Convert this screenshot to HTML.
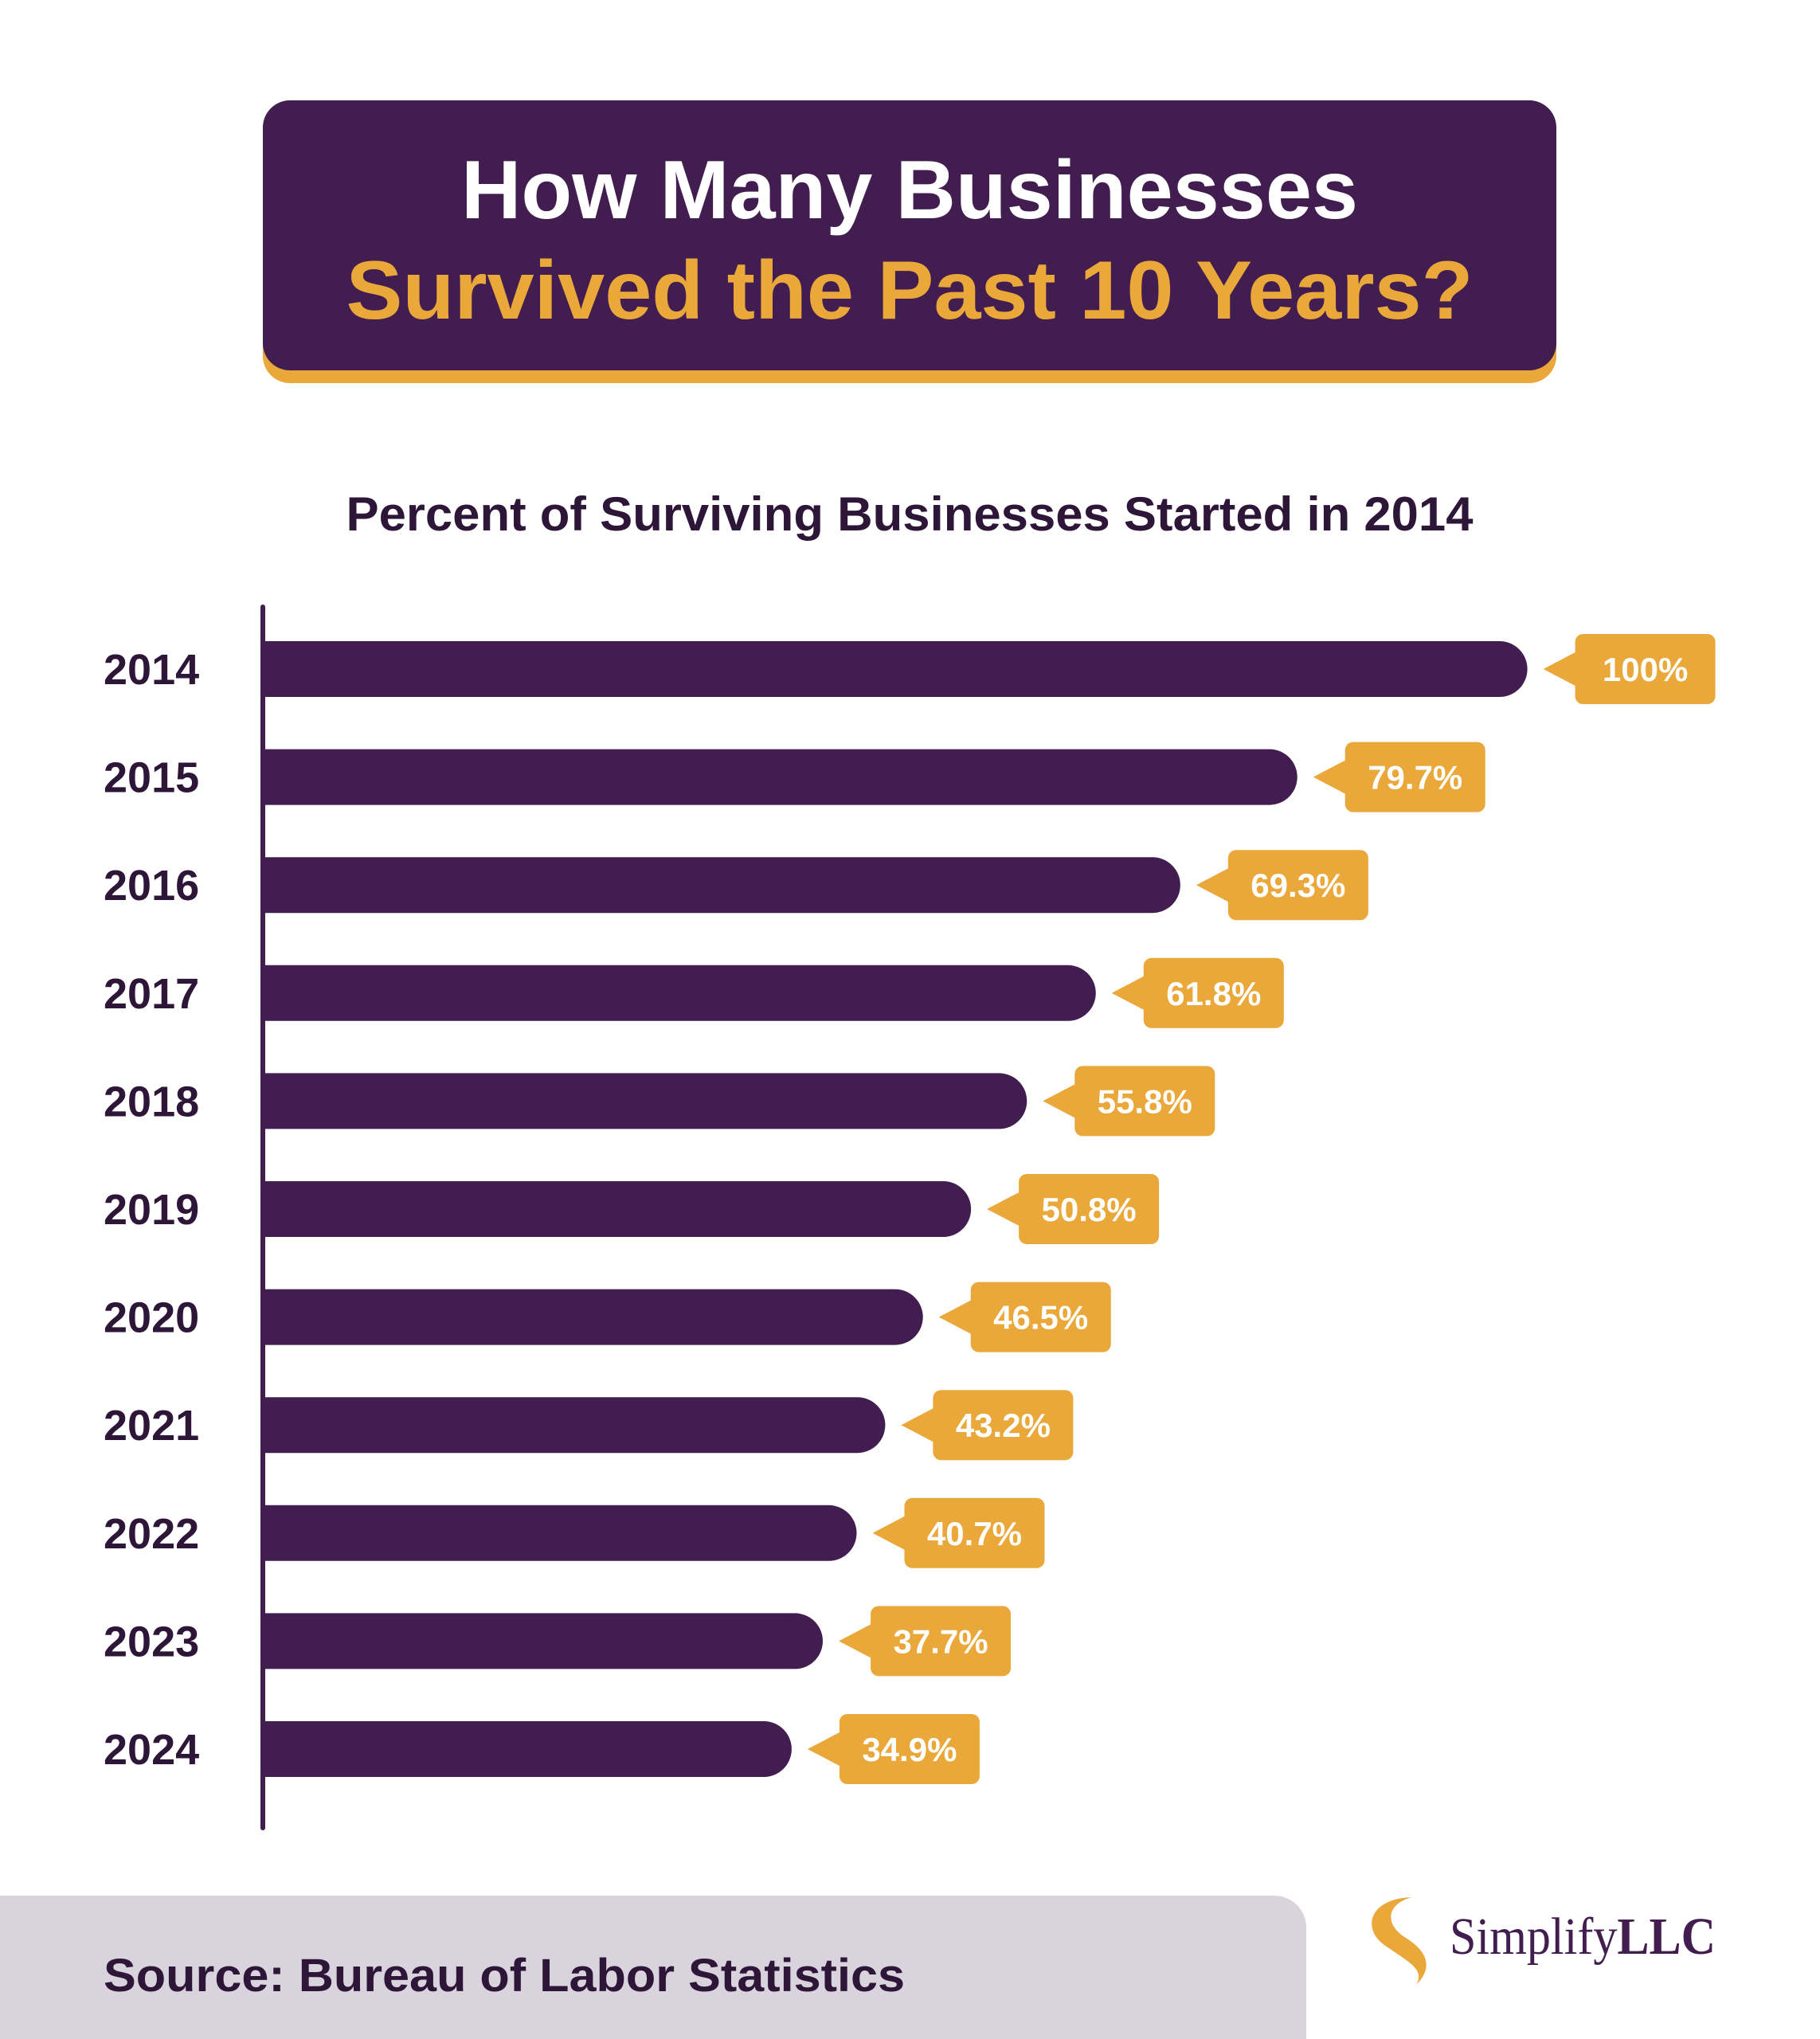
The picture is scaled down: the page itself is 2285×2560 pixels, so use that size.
<!DOCTYPE html>
<html><head><meta charset="utf-8"><style>html,body{margin:0;padding:0;background:#fff}svg{display:block}</style></head>
<body>
<svg width="2285" height="2560" viewBox="0 0 2285 2560" xmlns="http://www.w3.org/2000/svg" font-family="Liberation Sans, sans-serif">
<rect x="330" y="142" width="1624" height="339" rx="34" fill="#eaa83b"/>
<rect x="330" y="126" width="1624" height="339" rx="34" fill="#421d4f"/>
<text x="1142" y="274" text-anchor="middle" font-size="104" font-weight="bold" fill="#fff" textLength="1126" lengthAdjust="spacingAndGlyphs">How Many Businesses</text>
<text x="1142" y="400" text-anchor="middle" font-size="104" font-weight="bold" fill="#eaa83b" textLength="1415" lengthAdjust="spacingAndGlyphs">Survived the Past 10 Years?</text>
<text x="1142" y="666" text-anchor="middle" font-size="60" font-weight="bold" fill="#2e1638" textLength="1415" lengthAdjust="spacingAndGlyphs">Percent of Surviving Businesses Started in 2014</text>
<rect x="327" y="759" width="6" height="1539" rx="3" fill="#421d4f"/>
<g id="bars"></g>
<path d="M0 2380 H1600 A40 40 0 0 1 1640 2420 V2560 H0 Z" fill="#d9d3dd"/>
<text x="130" y="2500" font-size="58" font-weight="bold" fill="#2e1638" textLength="1006" lengthAdjust="spacingAndGlyphs">Source: Bureau of Labor Statistics</text>
<path d="M1772 2382 C1718 2384 1710 2422 1738 2442 C1766 2462 1790 2472 1778 2492 C1800 2470 1792 2450 1765 2433 C1740 2418 1738 2392 1772 2382 Z" fill="#eaa83b"/>
<text x="1820" y="2453" font-family="Liberation Serif, serif" font-size="66" fill="#421d4f" textLength="334" lengthAdjust="spacingAndGlyphs">Simplify<tspan font-weight="bold">LLC</tspan></text>
</svg>
<script>
var ends=[1175,998,908,843,790,747,710,681,659,633,609],vals=["100%","79.7%","69.3%","61.8%","55.8%","50.8%","46.5%","43.2%","40.7%","37.7%","34.9%"];
var g=document.getElementById('bars'),s='';
for(var i=0;i<11;i++){var cy=840+i*135.6,e=ends[i]*1.632,bx=e+60;
s+='<path d="M330 '+(cy-35)+' H'+(e-35)+' A35 35 0 0 1 '+(e-35)+' '+(cy+35)+' H330 Z" fill="#421d4f"/>';
s+='<text x="130" y="'+(cy+19)+'" font-size="54" font-weight="bold" fill="#2e1638">'+(2014+i)+'</text>';
s+='<rect x="'+bx+'" y="'+(cy-44)+'" width="176" height="88" rx="10" fill="#eaa83b"/>';
s+='<path d="M'+(e+20)+' '+cy+' L'+(bx+2)+' '+(cy-22)+' L'+(bx+2)+' '+(cy+22)+' Z" fill="#eaa83b"/>';
s+='<text x="'+(bx+88)+'" y="'+(cy+15)+'" text-anchor="middle" font-size="42" font-weight="bold" fill="#fff">'+vals[i]+'</text>';}
g.innerHTML=s;
</script>
</body></html>
